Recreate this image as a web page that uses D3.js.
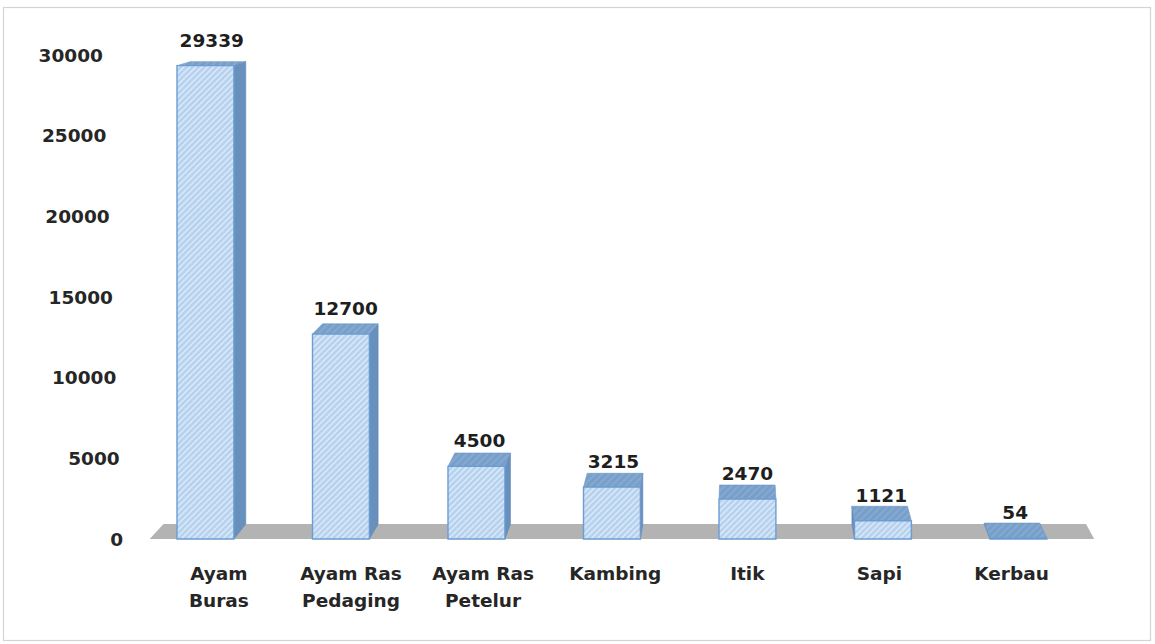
<!DOCTYPE html>
<html>
<head>
<meta charset="utf-8">
<script src="https://cdn.jsdelivr.net/npm/d3@7/dist/d3.min.js"></script>
<style>
  html, body { margin: 0; padding: 0; background: #ffffff; }
  svg { display: block; }
  text { font-family: "DejaVu Sans", sans-serif; font-weight: bold; }
</style>
</head>
<body>
<svg id="chart" width="1155" height="644"></svg>
<script>
// Livestock population by type
const categories = ["Ayam Buras", "Ayam Ras Pedaging", "Ayam Ras Petelur", "Kambing", "Itik", "Sapi", "Kerbau"];
const categoryLines = [["Ayam", "Buras"], ["Ayam Ras", "Pedaging"], ["Ayam Ras", "Petelur"], ["Kambing"], ["Itik"], ["Sapi"], ["Kerbau"]];
const populations = [29339, 12700, 4500, 3215, 2470, 1121, 54];
const yTicks = [0, 5000, 10000, 15000, 20000, 25000, 30000];

const svg = d3.select("#chart");

// frame around the chart area
svg.append("rect")
  .attr("x", 3.5).attr("y", 7.5)
  .attr("width", 1147).attr("height", 633)
  .attr("fill", "#ffffff")
  .attr("stroke", "#d4d4d4").attr("stroke-width", 1.2);

const x = d3.scaleBand()
  .domain(categories)
  .range([137.7, 1086.2])
  .paddingInner(0.58)
  .paddingOuter(0.29);

const y = d3.scaleLinear().domain([0, 30000]).range([539, 55]);

// simple perspective: the back of every solid shrinks toward a vanishing point
const VP = { x: 743, y: -107 };
const K = 0.0233;
const back = p => [p[0] + (VP.x - p[0]) * K, p[1] + (VP.y - p[1]) * K];
const poly = pts => "M" + pts.map(p => p[0].toFixed(2) + "," + p[1].toFixed(2)).join("L") + "Z";

// hatch patterns for the faces
const defs = svg.append("defs");
const pat = defs.append("pattern")
  .attr("id", "hatch")
  .attr("patternUnits", "userSpaceOnUse")
  .attr("width", 4.2).attr("height", 4.2)
  .attr("patternTransform", "rotate(45)");
pat.append("rect").attr("width", 4.2).attr("height", 4.2).attr("fill", "#b6d2ef");
pat.append("line")
  .attr("x1", 1).attr("y1", 0).attr("x2", 1).attr("y2", 4.2)
  .attr("stroke", "#deebf9").attr("stroke-width", 1.4);

const topPat = defs.append("pattern")
  .attr("id", "hatchTop")
  .attr("patternUnits", "userSpaceOnUse")
  .attr("width", 5).attr("height", 5)
  .attr("patternTransform", "rotate(45)");
topPat.append("rect").attr("width", 5).attr("height", 5).attr("fill", "#789fc9");
topPat.append("line")
  .attr("x1", 1).attr("y1", 0).attr("x2", 1).attr("y2", 5)
  .attr("stroke", "#8aaed4").attr("stroke-width", 1.4);

// floor slab
const fl = x.range()[0] + 12, fr = x.range()[1] + 8, fy = y(0);
const floorFront = [[fl, fy], [fr, fy]];
const floorBack = floorFront.map(back);
svg.append("path")
  .attr("d", poly([floorFront[0], floorFront[1], floorBack[1], floorBack[0]]))
  .attr("fill", "#b3b3b3");

// y-axis tick labels (on the back wall, drifting with the perspective)
svg.append("g").selectAll("text")
  .data(yTicks)
  .join("text")
  .attr("x", d => 123 - (y(0) - y(d)) * 0.0414)
  .attr("y", d => y(d))
  .attr("dy", "0.36em")
  .attr("text-anchor", "end")
  .attr("font-size", 18.5)
  .attr("fill", "#262626")
  .text(d => d);

// bars
const data = categories.map((c, i) => ({ name: c, lines: categoryLines[i], value: populations[i] }));
const bars = svg.append("g").selectAll("g").data(data).join("g");

bars.each(function(d) {
  const g = d3.select(this);
  const x0 = x(d.name), x1 = x0 + x.bandwidth();
  const yt = y(d.value), yb = y(0);
  const FLt = [x0, yt], FRt = [x1, yt], FRb = [x1, yb], FLb = [x0, yb];
  const BLt = back(FLt), BRt = back(FRt), BRb = back(FRb), BLb = back(FLb);

  if (BRt[0] > x1) {
    g.append("path").attr("d", poly([FRt, BRt, BRb, FRb]))
      .attr("fill", "#6890bd").attr("stroke", "#5c85b3").attr("stroke-width", 0.6);
  }
  if (BLt[0] < x0) {
    g.append("path").attr("d", poly([FLt, BLt, BLb, FLb]))
      .attr("fill", "#6890bd").attr("stroke", "#5c85b3").attr("stroke-width", 0.6);
  }
  g.append("path").attr("d", poly([FLt, FRt, BRt, BLt]))
    .attr("fill", "url(#hatchTop)").attr("stroke", "#6a94c2").attr("stroke-width", 0.6);
  g.append("path").attr("d", poly([FLt, FRt, FRb, FLb]))
    .attr("fill", "url(#hatch)").attr("stroke", "#6b9dd2").attr("stroke-width", 1.4);

  // value label above the top face
  const cx = (x0 + x1) / 2;
  g.append("text")
    .attr("x", cx + (VP.x - cx) * K * 0.5)
    .attr("y", yt - 19)
    .attr("text-anchor", "middle")
    .attr("font-size", 18.5)
    .attr("fill", "#1e1e1e")
    .text(d.value);

  // category label under the floor
  const t = g.append("text")
    .attr("text-anchor", "middle")
    .attr("font-size", 18.5)
    .attr("fill", "#262626");
  d.lines.forEach((line, i) => {
    t.append("tspan")
      .attr("x", cx + (VP.x - cx) * 0.025)
      .attr("y", 580 + i * 27)
      .text(line);
  });
});
</script>
</body>
</html>
